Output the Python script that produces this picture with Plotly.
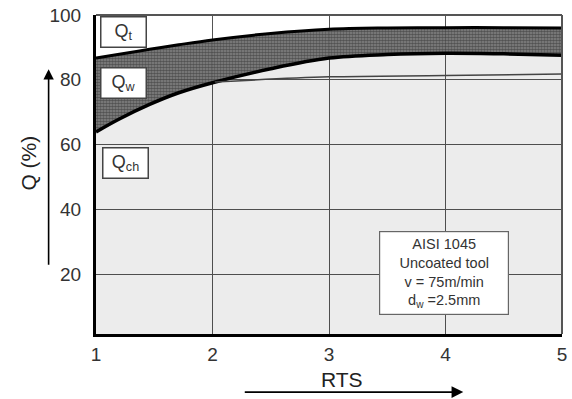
import plotly.graph_objects as go

# ---- data ----
rts = [1, 1.2, 1.46, 1.71, 2, 2.5, 3, 3.5, 4, 4.5, 5]
q_total = [86.7, 87.9, 89.4, 90.8, 92.3, 94.3, 95.6, 96.0, 96.1, 96.1, 96.0]
q_workpiece_lower = [63.9, 67.9, 72.4, 76.0, 79.1, 83.4, 86.7, 87.8, 88.2, 88.0, 87.6]
rts_chip = [2.02, 3, 4, 5]
q_chip = [79.3, 80.9, 81.3, 81.8]

x_ticks = [1, 2, 3, 4, 5]
y_ticks = [20, 40, 60, 80, 100]

FONT = "Liberation Sans, Arial, sans-serif"

fig = go.Figure()

# light-grey region under the lower curve
fig.add_trace(go.Scatter(
    x=rts, y=q_workpiece_lower, mode="lines", fill="tozeroy",
    fillcolor="rgba(0,0,0,0.075)",
    line=dict(color="black", width=3.5, shape="spline", smoothing=1.0),
    hoverinfo="skip", showlegend=False))

# hatched band between curves
fig.add_trace(go.Scatter(
    x=rts, y=q_total, mode="lines", fill="tonexty",
    fillcolor="rgba(120,120,120,0.8)",
    fillpattern=dict(shape=".", size=3, solidity=0.65,
                     fgcolor="#1e1e1e", bgcolor="rgba(125,125,125,0.92)"),
    line=dict(color="black", width=3, shape="spline", smoothing=1.0),
    hoverinfo="skip", showlegend=False))

# thin chip line
fig.add_trace(go.Scatter(
    x=rts_chip, y=q_chip, mode="lines",
    line=dict(color="#444", width=1.5, shape="spline"),
    hoverinfo="skip", showlegend=False))

fig.update_layout(
    width=572, height=399,
    margin=dict(l=96, r=5, t=9, b=65),
    paper_bgcolor="white", plot_bgcolor="white",
    font=dict(family=FONT, color="#333"),
    xaxis=dict(range=[1, 5], tickvals=x_ticks, ticktext=[str(v) for v in x_ticks],
               showgrid=True, gridcolor="#555", gridwidth=1.3,
               showline=True, linecolor="black", linewidth=3,
               zeroline=False, ticks="", ticklabelstandoff=1,
               ticklabeloverflow="allow",
               tickfont=dict(size=19, color="#333")),
    yaxis=dict(range=[1.5, 100], tickvals=y_ticks, ticktext=[str(v) for v in y_ticks],
               showgrid=True, gridcolor="#555", gridwidth=1.3,
               showline=True, linecolor="black", linewidth=3,
               zeroline=False, ticks="", ticklabelstandoff=8,
               ticklabeloverflow="allow",
               tickfont=dict(size=19, color="#333")),
    shapes=[
        dict(type="line", xref="paper", yref="paper", x0=0, x1=1, y0=1, y1=1,
             line=dict(color="#555", width=2), layer="above"),
        dict(type="line", xref="paper", yref="paper", x0=1, x1=1, y0=0, y1=1,
             line=dict(color="#555", width=2), layer="above"),
    ],
)

box = dict(xref="paper", yref="paper", showarrow=False, bgcolor="white",
           xanchor="center", yanchor="middle",
           bordercolor="#444", borderwidth=1.5, width=42, height=27,
           font=dict(size=18, color="#333", family=FONT))
fig.add_annotation(x=0.0593, y=0.9475, text="Q<sub>t</sub>", **box)
fig.add_annotation(x=0.0593, y=0.787, text="Q<sub>w</sub>", **box)
fig.add_annotation(x=0.0636, y=0.537, text="Q<sub>ch</sub>", **box)

fig.add_annotation(
    x=0.7458, y=0.19, xref="paper", yref="paper", showarrow=False,
    xanchor="center", yanchor="middle",
    text="AISI 1045<br>Uncoated tool<br>v = 75m/min<br>d<sub>w</sub> =2.5mm",
    bgcolor="white", bordercolor="#666", borderwidth=1.2,
    width=126, height=80, align="center",
    font=dict(size=14.5, color="#333", family=FONT))

# axis titles
fig.add_annotation(x=(28 - 96) / 472, y=(334 - 160) / 324, xref="paper", yref="paper",
                   xanchor="center", yanchor="middle",
                   text="Q (%)", textangle=-90, showarrow=False,
                   font=dict(size=21, color="#222", family=FONT))
fig.add_annotation(x=(345 - 96) / 472, y=(334 - 380) / 324, xref="paper", yref="paper",
                   xanchor="center", yanchor="middle",
                   text="RTS", showarrow=False,
                   font=dict(size=21, color="#222", family=FONT))

# arrows
fig.add_annotation(x=(48 - 96) / 472, y=(334 - 65) / 324, xref="paper", yref="paper",
                   ax=0, ay=197, text="", showarrow=True, arrowhead=2,
                   arrowsize=1.3, arrowwidth=1.6, arrowcolor="black")
fig.add_annotation(x=(468 - 96) / 472, y=(334 - 393) / 324, xref="paper", yref="paper",
                   ax=-220, ay=0, text="", showarrow=True, arrowhead=2,
                   arrowsize=1.3, arrowwidth=1.8, arrowcolor="black")

fig.write_html("out.html", config={"displayModeBar": False},
               post_script="document.body.style.margin='0';document.body.style.overflow='hidden';")
